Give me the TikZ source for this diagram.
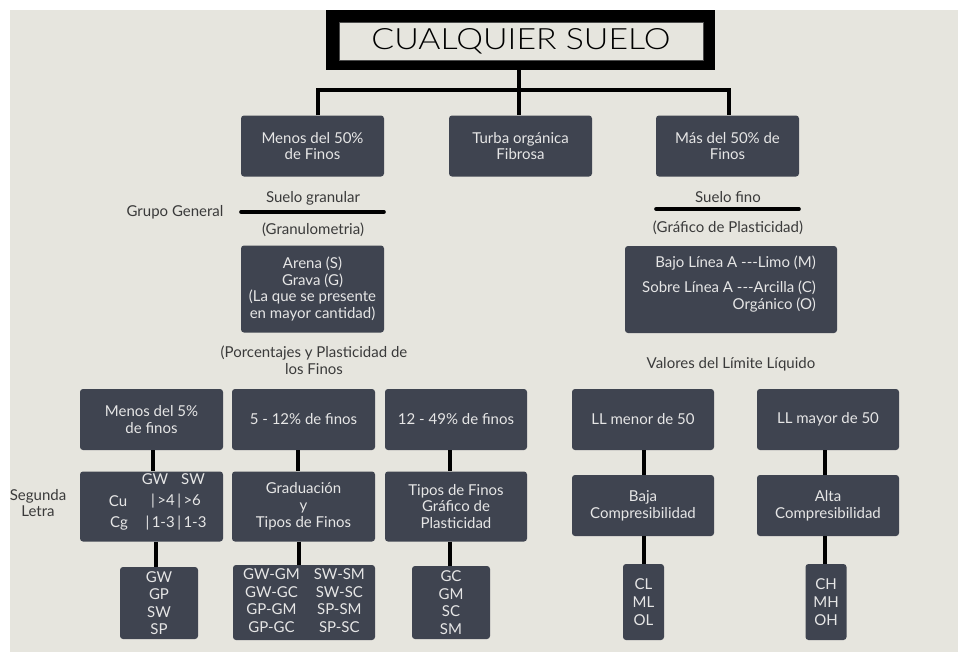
\documentclass[tikz,border=0pt]{standalone}
\usepackage{fontspec}
\setmainfont{Lato}
\IfFontExistsTF{Lato Light}{\newfontfamily\titlefont{Lato Light}}{\newfontfamily\titlefont{Lato}}
\usepackage{graphicx}
\definecolor{bg}{HTML}{E6E5DE}
\definecolor{boxc}{HTML}{3F4450}
\definecolor{boxt}{HTML}{E6E6E6}
\definecolor{txt}{HTML}{3A3A3A}
\tikzset{
  box/.style={rectangle, rounded corners=3pt, fill=boxc, text=boxt, align=center, inner sep=0pt,
    font=\fontsize{15}{16.8}\selectfont},
  lbl/.style={text=txt, align=center, inner sep=0pt, font=\fontsize{15}{16.8}\selectfont},
  intxt/.style={text=boxt, inner sep=0pt, font=\fontsize{15}{16.8}\selectfont},
  small/.style={font=\fontsize{15}{17.5}\selectfont},
  conn/.style={line width=3.6pt, black},
  rule/.style={line width=3.6pt, black, line cap=round},
}
\begin{document}
\begin{tikzpicture}[x=1pt,y=-1pt]
\fill[white] (0,0) rectangle (958,654);
\fill[bg] (10,10) rectangle (958,652);
\useasboundingbox (0,0) rectangle (958,654);

% title
\node[rectangle, fill=black, minimum width=389pt, minimum height=60pt, inner sep=0pt] (title) at (520.5,40) {};
\node[rectangle, fill=bg, draw=black!70, line width=0.6pt, minimum width=364pt, minimum height=38pt, inner sep=0pt,
      text=black] (titletxt) at (521,41) {\resizebox{299pt}{21pt}{\titlefont CUALQUIER SUELO}};

% row 1
\node[box, minimum width=143pt, minimum height=61pt] (a) at (312.5,146) {Menos del 50\%\\de Finos};
\node[box, minimum width=143pt, minimum height=61pt] (b) at (520.5,146) {Turba orgánica\\Fibrosa};
\node[box, minimum width=143pt, minimum height=61pt] (c) at (727.5,146) {Más del 50\% de\\Finos};

\coordinate (j) at (519,90);
\coordinate (ja) at (318,0);
\coordinate (jc) at (729,0);
\draw[conn] (title.south -| j) -- (j);
\draw[conn] (a.north -| ja) |- (j) -| (c.north -| jc);
\draw[conn] (j) -- (b.north -| j);

% left branch
\node[lbl] (sg) at (313,198) {Suelo granular};
\node[lbl] (gg) at (175,212) {Grupo General};
\node[lbl] (gr) at (313,230) {(Granulometria)};
\draw[rule] (241,212) -- (384,212);
\node[box, minimum width=143pt, minimum height=87pt] (arena) at (312.5,289)
  {Arena (S)\\Grava (G)\\(La que se presente\\en mayor cantidad)};

% right branch
\node[lbl] (sf) at (728,197) {Suelo fino};
\node[lbl] (gp) at (728,228) {(Gráfico de Plasticidad)};
\draw[rule] (656,209) -- (799,209);
\node[box, minimum width=212pt, minimum height=87pt] (linea) at (731,289.5) {};
\node[intxt, align=right] (lineatxt) at (729,284)
  {Bajo Línea A -{}-{}-Limo (M)\\[9pt]Sobre Línea A -{}-{}-Arcilla (C)\\Orgánico (O)};

\node[lbl] (pp) at (314,360) {(Porcentajes y Plasticidad de\\los Finos};
\node[lbl] (vl) at (731,364) {Valores del Límite Líquido};
\node[lbl] (sl) at (38,503) {Segunda\\Letra};

% row 3
\node[box, minimum width=143pt, minimum height=61pt] (r31) at (151.5,419.5) {Menos del 5\%\\de finos};
\node[box, minimum width=143pt, minimum height=61pt] (r32) at (303.5,419.5) {5 - 12\% de finos};
\node[box, minimum width=142pt, minimum height=61pt] (r33) at (456,419.5) {12 - 49\% de finos};
\node[box, minimum width=142pt, minimum height=61pt] (r34) at (643,419.5) {LL menor de 50};
\node[box, minimum width=142pt, minimum height=61pt] (r35) at (828,419.5) {LL mayor de 50};

% row 4
\node[box, minimum width=143pt, minimum height=70pt] (r41) at (151.5,506.5) {};
\node[intxt] (gw) at (155,479) {GW};
\node[intxt] (sw) at (193,479) {SW};
\node[intxt] (cu) at (118,501) {Cu};
\node[intxt] (cuv) at (176,501) {|\,>4\,|\,>6};
\node[intxt] (cg) at (119,523) {Cg};
\node[intxt] (cgv) at (176,523) {|\,1-3\,|\,1-3};
\node[box, minimum width=143pt, minimum height=70pt] (r42) at (303.5,506.5) {Graduación\\y\\Tipos de Finos};
\node[box, minimum width=142pt, minimum height=70pt] (r43) at (456,506.5) {Tipos de Finos\\Gráfico de\\Plasticidad};
\node[box, minimum width=142pt, minimum height=61pt] (r44) at (643,505.5) {Baja\\Compresibilidad};
\node[box, minimum width=142pt, minimum height=61pt] (r45) at (828,505.5) {Alta\\Compresibilidad};

% row 5
\node[box, small, minimum width=78pt, minimum height=72pt] (r51) at (159,603) {GW\\GP\\SW\\SP};
\node[box, small, minimum width=142pt, minimum height=75pt] (r52) at (304,602.5)
  {\begin{tabular}{@{}c@{\hspace{14pt}}c@{}}GW-GM & SW-SM\\GW-GC & SW-SC\\GP-GM & SP-SM\\GP-GC & SP-SC\end{tabular}};
\node[box, small, minimum width=78pt, minimum height=73pt] (r53) at (451,602.5) {GC\\GM\\SC\\SM};
\node[box, minimum width=41pt, minimum height=76pt, font=\fontsize{15}{18}\selectfont] (r54) at (643.5,602) {CL\\ML\\OL};
\node[box, minimum width=41pt, minimum height=76pt, font=\fontsize{15}{18}\selectfont] (r55) at (826,602) {CH\\MH\\OH};

% vertical connectors
\coordinate (k1) at (153,0);
\coordinate (k2) at (298,0);
\coordinate (k3) at (450,0);
\coordinate (k4) at (644,0);
\coordinate (k5) at (825,0);
\coordinate (m1) at (156,0);
\coordinate (m2) at (299,0);
\draw[conn] (r31.south -| k1) -- (r41.north -| k1);
\draw[conn] (r32.south -| k2) -- (r42.north -| k2);
\draw[conn] (r33.south -| k3) -- (r43.north -| k3);
\draw[conn] (r34.south -| k4) -- (r44.north -| k4);
\draw[conn] (r35.south -| k5) -- (r45.north -| k5);
\draw[conn] (r41.south -| m1) -- (r51.north -| m1);
\draw[conn] (r42.south -| m2) -- (r52.north -| m2);
\draw[conn] (r43.south -| k3) -- (r53.north -| k3);
\draw[conn] (r44.south -| k4) -- (r54.north -| k4);
\draw[conn] (r45.south -| k5) -- (r55.north -| k5);
\end{tikzpicture}
\end{document}
